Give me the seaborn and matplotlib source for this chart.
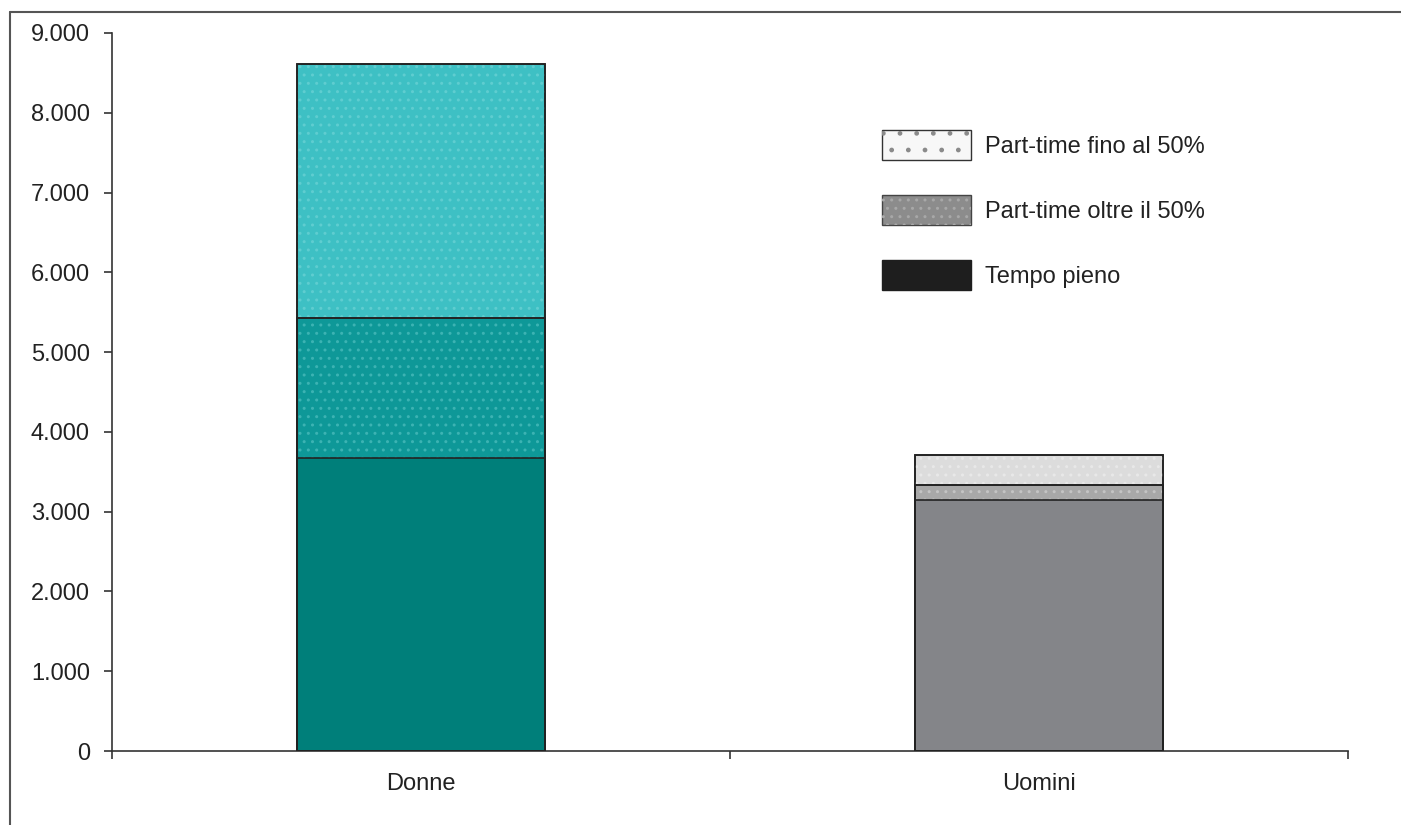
import matplotlib
matplotlib.use("Agg")
import matplotlib.pyplot as plt
from matplotlib.patches import Patch
from matplotlib.lines import Line2D
import seaborn as sns
import pandas as pd
import numpy as np

# Employees by working-time arrangement and gender
categories = ["Donne", "Uomini"]
tempo_pieno = [3670, 3150]
part_time_oltre_50 = [1760, 180]
part_time_fino_50 = [3180, 380]
legend_labels = ["Part-time fino al 50%", "Part-time oltre il 50%", "Tempo pieno"]
y_ticks = [0, 1000, 2000, 3000, 4000, 5000, 6000, 7000, 8000, 9000]

sns.set_theme(style="white")
plt.rcParams["font.family"] = ["Liberation Sans", "DejaVu Sans"]
plt.rcParams["hatch.linewidth"] = 1.0

FS = 17

df = pd.DataFrame({
    "genere": categories,
    "base": np.array(tempo_pieno),
    "mid": np.array(tempo_pieno) + np.array(part_time_oltre_50),
    "top": np.array(tempo_pieno) + np.array(part_time_oltre_50) + np.array(part_time_fino_50),
})

fig = plt.figure(figsize=(14.01, 8.25), dpi=100)
ax = fig.add_axes([112 / 1401, 1 - 751 / 825, (1348 - 112) / 1401, (751 - 33) / 825])

edge = "#222222"
layers = [
    ("top", ["#3ec0c4", "#dcdcdc"], ["#5fcdd0", "#e8e8e8"]),
    ("mid", ["#0e9898", "#a8a8a8"], ["#3cb3b3", "#c4c4c4"]),
    ("base", ["#007f7a", "#848589"], None),
]
for col, face_colors, dot_colors in layers:
    n0 = len(ax.patches)
    sns.barplot(data=df, x="genere", y=col, hue="genere", palette=face_colors,
                saturation=1, width=0.4, edgecolor=edge, linewidth=1.2,
                legend=False, ax=ax)
    if dot_colors is not None:
        n1 = len(ax.patches)
        sns.barplot(data=df, x="genere", y=col, hue="genere", palette=dot_colors,
                    saturation=1, width=0.4, legend=False, ax=ax)
        for p, c in zip(ax.patches[n1:], dot_colors):
            p.set_facecolor("none")
            p.set_edgecolor(c)
            p.set_linewidth(0)
            p.set_hatch("..")
        # redraw outline on top of the dotted texture
        for p in ax.patches[n0:n1]:
            r = plt.Rectangle(p.get_xy(), p.get_width(), p.get_height(),
                              facecolor="none", edgecolor=edge, linewidth=1.2, zorder=3)
            ax.add_patch(r)

ax.set_xlim(-0.5, 1.5)
ax.set_ylim(0, 9000)
ax.set_yticks(y_ticks)
ax.set_yticklabels([f"{v:,}".replace(",", ".") for v in y_ticks])
ax.set_xlabel("")
ax.set_ylabel("")

# category boundary ticks on the x axis
ax.set_xticks([-0.5, 0.5, 1.5], minor=True)
ax.tick_params(axis="x", which="minor", direction="out", length=6, width=1.2,
               color="#333333", bottom=True)
ax.tick_params(axis="x", which="major", length=0, pad=16, labelsize=FS, colors="#222222")
ax.tick_params(axis="y", which="major", direction="out", length=6, width=1.2,
               color="#333333", left=True, pad=10, labelsize=FS, labelcolor="#222222")

for side in ["top", "right"]:
    ax.spines[side].set_visible(False)
for side in ["left", "bottom"]:
    ax.spines[side].set_color("#333333")
    ax.spines[side].set_linewidth(1.2)

handles = [
    (Patch(facecolor="#f7f7f7", edgecolor="#333333", linewidth=1.0),
     Patch(facecolor="none", edgecolor="#8a8a8a", linewidth=0, hatch=".")),
    (Patch(facecolor="#8c8c8c", edgecolor="#444444", linewidth=1.0),
     Patch(facecolor="none", edgecolor="#a8a8a8", linewidth=0, hatch="..")),
    Patch(facecolor="#1e1e1e", edgecolor="#1e1e1e", linewidth=1.0),
]
fig.legend(handles, legend_labels, loc="upper left",
           bbox_to_anchor=(882 / 1401, 1 - 130 / 825), frameon=False,
           fontsize=FS, handlelength=3.77, handleheight=1.58, labelspacing=1.48,
           handletextpad=0.6, borderpad=0, borderaxespad=0, labelcolor="#222222")

# outer frame
fig.add_artist(Line2D([10 / 1401, 1.0], [1 - 12 / 825, 1 - 12 / 825],
                      transform=fig.transFigure, color="#555555", linewidth=1.5))
fig.add_artist(Line2D([10 / 1401, 10 / 1401], [0.0, 1 - 12 / 825],
                      transform=fig.transFigure, color="#555555", linewidth=1.5))

fig.savefig("out.png", dpi=100)
